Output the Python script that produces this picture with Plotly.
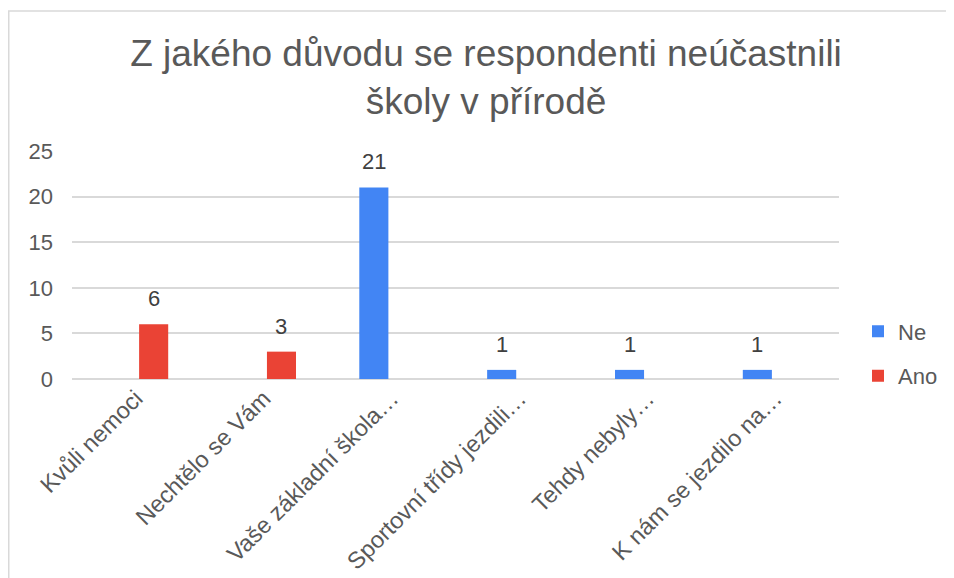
import plotly.graph_objects as go

# categories and values
categories = ["Kvůli nemoci", "Nechtělo se Vám", "Vaše základní škola…",
              "Sportovní třídy jezdili…", "Tehdy nebyly…", "K nám se jezdilo na…"]
ne_values = [0, 0, 21, 1, 1, 1]
ano_values = [6, 3, 0, 0, 0, 0]
y_ticks = [0, 5, 10, 15, 20, 25]

FONT = "Liberation Sans, Arial, sans-serif"
GREY = "#595959"

# page body adds 8px, so the figure is a bit smaller than the window
W, H = 946, 570
ML, MR, MT, MB = 64, 115, 143, 199
BARGAP, GROUPGAP = 0.445, 0.18

fig = go.Figure()
fig.add_trace(go.Bar(name="Ne", x=categories, y=ne_values,
                     marker=dict(color="#4285F4", line=dict(width=0)),
                     legendgroup="ne"))
fig.add_trace(go.Bar(name="Ano", x=categories, y=ano_values,
                     marker=dict(color="#EA4335", line=dict(width=0)),
                     legendgroup="ano"))

# data labels (Excel skips zeros), shifted onto each bar of the group
slot = (W - ML - MR) / len(categories)
offset = slot * (1 - BARGAP) / 4
for vals, sign in ((ne_values, -1), (ano_values, 1)):
    for cat, v in zip(categories, vals):
        if v:
            fig.add_annotation(x=cat, y=v, text=str(v), showarrow=False,
                               xshift=sign*offset, yshift=11, yanchor="bottom",
                               font=dict(size=22, color="#404040", family=FONT))

fig.update_layout(
    width=W, height=H,
    margin=dict(l=ML, r=MR, t=MT, b=MB),
    paper_bgcolor="white", plot_bgcolor="white",
    font=dict(family=FONT, color=GREY, size=22),
    title=dict(text="Z jakého důvodu se respondenti neúčastnili<br>školy v přírodě",
               font=dict(size=37, color=GREY, family=FONT),
               x=478/W, xref="container", xanchor="center",
               y=1-58/H, yref="container", yanchor="top"),
    barmode="group", bargap=BARGAP, bargroupgap=GROUPGAP,
    # container-anchored so the legend does not push the right margin
    legend=dict(x=850/W, xref="container", xanchor="left",
                y=0.11, yanchor="middle",
                tracegroupgap=13, font=dict(size=22, color=GREY)),
    showlegend=True,
)
fig.update_xaxes(tickangle=-45, showgrid=False, showline=False, ticks="",
                 automargin=False, tickfont=dict(size=23.5, color=GREY))
fig.update_yaxes(range=[0, 25], tickvals=y_ticks, showgrid=True,
                 gridcolor="#D9D9D9", gridwidth=1.5, zeroline=True,
                 zerolinecolor="#D9D9D9", zerolinewidth=1.5,
                 showline=False, ticks="", ticklabelstandoff=18,
                 automargin=False, tickfont=dict(size=22, color=GREY))

# outer chart border
pw, ph = W - ML - MR, H - MT - MB
fig.add_shape(type="rect", xref="paper", yref="paper",
              x0=(0.75-ML)/pw, x1=(W+20-ML)/pw,
              y0=-(MB+20)/ph, y1=(H-3-MB)/ph,
              line=dict(color="#D9D9D9", width=1.5), fillcolor="rgba(0,0,0,0)",
              layer="below")

fig.write_html("out.html")
